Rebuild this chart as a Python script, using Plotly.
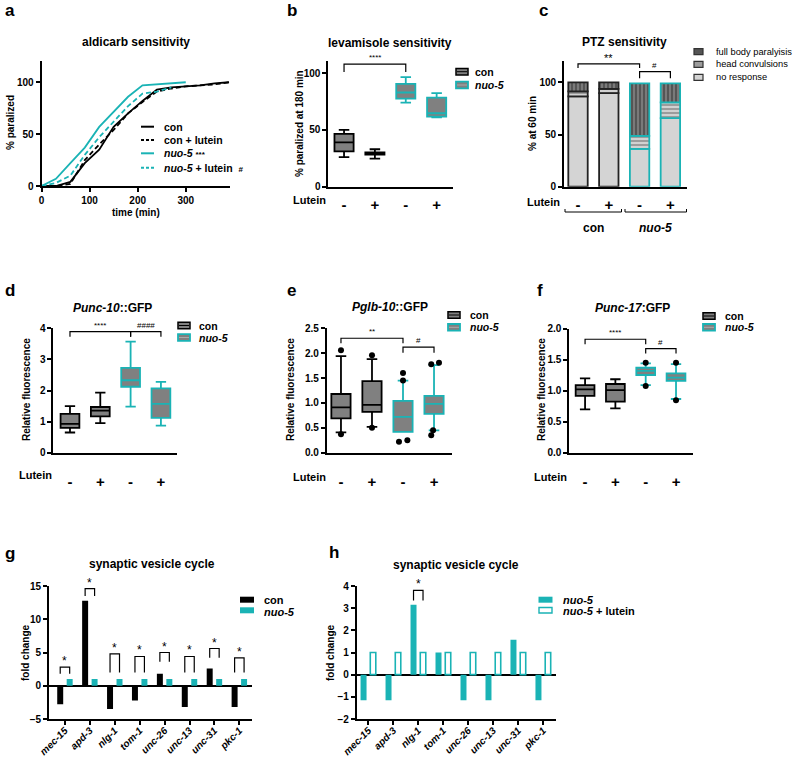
import plotly.graph_objects as go

W, H = 799, 757
TEAL = "#1ab3b5"
GRAY = "#808080"
FONT = "Liberation Sans, Arial, Helvetica, sans-serif"

# ---------------- data ----------------
# (a) aldicarb sensitivity
a_time = [0, 30, 60, 90, 120, 150, 180, 210, 240, 270, 300, 330, 360, 390]
a_con = [0, 0, 4, 22, 35, 57, 70, 82, 93, 95, 96, 97, 99, 100]
a_con_lutein = [0, 0, 2, 25, 40, 54, 70, 81, 91, 94, 96, 97, 98, 100]
a_nuo5_time = [0, 30, 60, 90, 120, 150, 180, 210, 240, 270, 300]
a_nuo5 = [0, 7, 22, 37, 57, 72, 86, 97, 98, 99, 100]
a_nuo5_lutein_time = [0, 30, 60, 90, 120, 150, 180, 210, 240, 270]
a_nuo5_lutein = [0, 3, 10, 30, 47, 62, 77, 89, 91, 95]

lutein_ticks = ["-", "+", "-", "+"]
groups = [0, 1, 2, 3]

# (b) levamisole sensitivity: box stats (con-, con+, nuo5-, nuo5+)
b_q1 = [31.2, 28.2, 77.6, 61.8]
b_med = [39.0, 29.1, 83.0, 64.7]
b_q3 = [46.5, 30.3, 90.6, 78.5]
b_lo = [26.0, 24.7, 74.0, 61.0]
b_hi = [50.0, 33.0, 96.5, 82.4]

# (c) PTZ sensitivity (% at 60 min)
c_no_response = [86.5, 89.7, 36.2, 65.7]
c_head = [4.8, 4.0, 12.5, 15.1]
c_full = [8.7, 6.3, 50.3, 18.2]

# (d) Punc-10::GFP
d_q1 = [0.80, 1.17, 2.12, 1.12]
d_med = [0.93, 1.35, 2.33, 1.57]
d_q3 = [1.25, 1.47, 2.73, 2.07]
d_lo = [0.65, 0.95, 1.48, 0.87]
d_hi = [1.50, 1.93, 3.57, 2.28]

# (e) Pglb-10::GFP
e_q1 = [0.69, 0.82, 0.42, 0.78]
e_med = [0.91, 0.96, 0.72, 0.98]
e_q3 = [1.18, 1.44, 1.04, 1.14]
e_lo = [0.41, 0.52, 0.42, 0.45]
e_hi = [1.94, 1.88, 1.45, 1.76]
e_out_x = [0, 0, 1, 1, 2, 2, 1.87, 2.14, 2.91, 3.16, 2.97, 2.91]
e_out_y = [2.06, 0.37, 1.96, 0.50, 1.60, 1.45, 0.22, 0.25, 1.78, 1.81, 0.45, 0.35]

# (f) Punc-17:GFP
f_q1 = [0.915, 0.823, 1.253, 1.157]
f_med = [1.02, 1.01, 1.32, 1.21]
f_q3 = [1.09, 1.108, 1.37, 1.28]
f_lo = [0.70, 0.716, 1.09, 0.866]
f_hi = [1.20, 1.185, 1.44, 1.43]
f_out_x = [2, 2, 3, 3]
f_out_y = [1.45, 1.076, 1.45, 0.845]

# (g,h) synaptic vesicle cycle
genes = ["mec-15", "apd-3", "nlg-1", "tom-1", "unc-26", "unc-13", "unc-31", "pkc-1"]
g_con = [-2.8, 12.8, -3.5, -2.2, 1.8, -3.2, 2.6, -3.2]
g_nuo5 = [1, 1, 1, 1, 1, 1, 1, 1]
h_nuo5 = [-1.15, -1.15, 3.15, 1.0, -1.15, -1.15, 1.58, -1.15]
h_nuo5_lutein = [1, 1, 1, 1, 1, 1, 1, 1]

# ---------------- helpers ----------------
def px(x):
    return x / W


def py(y):
    return 1 - y / H


annotations = []
shapes = []


def txt(text, x, y, size=10, bold=True, italic=False, xanchor="center",
        yanchor="middle", angle=0):
    f = dict(family=FONT, size=size, color="black", weight="bold" if bold else "normal",
             style="italic" if italic else "normal")
    annotations.append(dict(text=text, x=px(x), y=py(y), xref="paper", yref="paper",
                            showarrow=False, font=f, xanchor=xanchor, yanchor=yanchor,
                            textangle=angle))


def bracket(ax, x0, x1, ytop, yl, yr, label, lsize=8, lift=0):
    shapes.append(dict(type="path", xref="x" + ax, yref="y" + ax,
                       path=f"M {x0},{yl} L {x0},{ytop} L {x1},{ytop} L {x1},{yr}",
                       line=dict(color="black", width=1.2)))
    annotations.append(dict(text=label, x=(x0 + x1) / 2, y=ytop, xref="x" + ax, yref="y" + ax,
                            showarrow=False, yanchor="bottom", yshift=lift,
                            font=dict(family=FONT, size=lsize, color="black")))


def pline(x0, y0, x1, y1, color="black", width=1.0, dash="solid"):
    shapes.append(dict(type="line", xref="paper", yref="paper", x0=px(x0), y0=py(y0),
                       x1=px(x1), y1=py(y1), line=dict(color=color, width=width, dash=dash)))


def prect(x0, y0, x1, y1, fill, line, width=1.5):
    shapes.append(dict(type="rect", xref="paper", yref="paper", x0=px(x0), y0=py(y0),
                       x1=px(x1), y1=py(y1), fillcolor=fill,
                       line=dict(color=line, width=width)))


def box_legend(x, y1, y2, tx):
    prect(x, y1 - 3.3, x + 12, y1 + 3.3, GRAY, "black", 1.5)
    pline(x + 1, y1, x + 11, y1, "black", 1)
    txt("con", tx, y1, size=10.5, xanchor="left")
    prect(x, y2 - 3.3, x + 12, y2 + 3.3, GRAY, TEAL, 1.8)
    pline(x + 1, y2, x + 11, y2, "#aaaaaa", 1)
    txt("nuo-5", tx, y2, size=10.5, italic=True, xanchor="left")


DASH = "5px,3px"

# ---------------- figure ----------------
fig = go.Figure()

# (a)
line_specs = [
    (a_time, a_con, "black", "solid"),
    (a_time, a_con_lutein, "black", DASH),
    (a_nuo5_time, a_nuo5, TEAL, "solid"),
    (a_nuo5_lutein_time, a_nuo5_lutein, TEAL, DASH),
]
for xs, ys, col, dash in line_specs:
    fig.add_trace(go.Scatter(x=xs, y=ys, mode="lines", xaxis="x", yaxis="y",
                             line=dict(color=col, width=1.8, dash=dash), hoverinfo="skip"))


def add_boxes(ax, q1, med, q3, lo, hi):
    for sl, col in ((slice(0, 2), "black"), (slice(2, 4), TEAL)):
        fig.add_trace(go.Box(x=groups[sl], q1=q1[sl], median=med[sl], q3=q3[sl],
                             lowerfence=lo[sl], upperfence=hi[sl],
                             xaxis="x" + ax, yaxis="y" + ax, fillcolor=GRAY,
                             line=dict(color=col, width=1.8), width=0.62,
                             whiskerwidth=0.55, boxpoints=False, hoverinfo="skip"))


add_boxes("2", b_q1, b_med, b_q3, b_lo, b_hi)

# (c) stacked bars
outline = ["#222222", "#222222", TEAL, TEAL]
base_head = c_no_response
base_full = [a + b for a, b in zip(c_no_response, c_head)]
fig.add_trace(go.Bar(x=groups, y=c_no_response, xaxis="x3", yaxis="y3", width=0.63,
                     marker=dict(color="#d4d4d4", line=dict(color=outline, width=1.8)),
                     hoverinfo="skip"))
fig.add_trace(go.Bar(x=groups, y=c_head, base=base_head, xaxis="x3", yaxis="y3", width=0.63,
                     marker=dict(color="#9c9c9c", line=dict(color=outline, width=1.8),
                                 pattern=dict(shape="-", bgcolor="#9c9c9c", fgcolor="#e8e8e8",
                                              size=4, solidity=0.35, fillmode="replace")),
                     hoverinfo="skip"))
fig.add_trace(go.Bar(x=groups, y=c_full, base=base_full, xaxis="x3", yaxis="y3", width=0.63,
                     marker=dict(color="#555555", line=dict(color=outline, width=1.8),
                                 pattern=dict(shape="|", bgcolor="#555555", fgcolor="#8a8a8a",
                                              size=4, solidity=0.35, fillmode="replace")),
                     hoverinfo="skip"))

add_boxes("4", d_q1, d_med, d_q3, d_lo, d_hi)
add_boxes("5", e_q1, e_med, e_q3, e_lo, e_hi)
fig.add_trace(go.Scatter(x=e_out_x, y=e_out_y, mode="markers", xaxis="x5", yaxis="y5",
                         marker=dict(color="black", size=6), hoverinfo="skip"))
add_boxes("6", f_q1, f_med, f_q3, f_lo, f_hi)
fig.add_trace(go.Scatter(x=f_out_x, y=f_out_y, mode="markers", xaxis="x6", yaxis="y6",
                         marker=dict(color="black", size=6), hoverinfo="skip"))

gx = list(range(len(genes)))
fig.add_trace(go.Bar(x=gx, y=g_con, xaxis="x7", yaxis="y7", width=0.24, offset=-0.31,
                     marker=dict(color="black", line=dict(width=0)), hoverinfo="skip"))
fig.add_trace(go.Bar(x=gx, y=g_nuo5, xaxis="x7", yaxis="y7", width=0.24, offset=0.07,
                     marker=dict(color=TEAL, line=dict(width=0)), hoverinfo="skip"))
fig.add_trace(go.Bar(x=gx, y=h_nuo5, xaxis="x8", yaxis="y8", width=0.24, offset=-0.31,
                     marker=dict(color=TEAL, line=dict(width=0)), hoverinfo="skip"))
fig.add_trace(go.Bar(x=gx, y=h_nuo5_lutein, xaxis="x8", yaxis="y8", width=0.22, offset=0.08,
                     marker=dict(color="white", line=dict(color=TEAL, width=1.6)),
                     hoverinfo="skip"))

# ---------------- axes ----------------
tickfont = dict(family=FONT, size=10, color="black", weight="bold")
base_ax = dict(showline=True, linecolor="black", linewidth=1.7, ticks="outside", ticklen=4,
               tickwidth=1.5, tickcolor="black", showgrid=False, zeroline=False,
               tickfont=tickfont, fixedrange=True, automargin=False)

panels = {
    "": dict(x=(41.5, 230), y=(61, 186), xr=[0, 392], yr=[0, 120.5], yt=[0, 50, 100]),
    "2": dict(x=(328.3, 453), y=(60.7, 186.7), xr=[-0.51, 3.53], yr=[0, 111], yt=[0, 50, 100]),
    "3": dict(x=(564, 686.7), y=(61, 186.7), xr=[-0.455, 3.53], yr=[0, 120.5], yt=[0, 50, 100]),
    "4": dict(x=(53.3, 176.7), y=(328.3, 452.7), xr=[-0.55, 3.52], yr=[0, 4.0], yt=[0, 1, 2, 3, 4]),
    "5": dict(x=(326.7, 451.7), y=(328.3, 452.7), xr=[-0.46, 3.57], yr=[0, 2.5],
              yt=[0, 0.5, 1.0, 1.5, 2.0, 2.5]),
    "6": dict(x=(569.3, 693), y=(328.7, 452.7), xr=[-0.52, 3.56], yr=[0, 2.0],
              yt=[0, 0.5, 1.0, 1.5, 2.0]),
    "7": dict(x=(49, 252.3), y=(586, 719), xr=[-0.64, 7.52], yr=[-5, 15], yt=[-5, 0, 5, 10, 15]),
    "8": dict(x=(356.7, 555.7), y=(586, 719), xr=[-0.464, 7.5], yr=[-2, 4],
              yt=[-2, -1, 0, 1, 2, 3, 4]),
}

layout_axes = {}
for k, p in panels.items():
    xa = dict(base_ax, domain=[px(p["x"][0]), px(p["x"][1])], range=p["xr"],
              anchor="y" + k)
    ya = dict(base_ax, domain=[py(p["y"][1]), py(p["y"][0])], range=p["yr"],
              anchor="x" + k, tickvals=p["yt"])
    if k in ("5", "6"):
        ya["tickformat"] = ".1f"
    if k == "":
        xa["tickvals"] = [0, 100, 200, 300]
    elif k in ("2", "3", "4", "5", "6"):
        xa.update(tickvals=groups, ticktext=lutein_ticks, ticks="",
                  tickfont=dict(family=FONT, size=15, color="black", weight="bold"),
                  ticklabelstandoff=3 if k in ("2", "3") else 14)
    else:
        xa.update(tickvals=gx, ticktext=genes, tickangle=-45, ticklabelstandoff=-4,
                  tickfont=dict(family=FONT, size=10, color="black", weight="bold",
                                style="italic"))
        ya.update(zeroline=True, zerolinecolor="black", zerolinewidth=1.8)
    layout_axes["xaxis" + k] = xa
    layout_axes["yaxis" + k] = ya

# ---------------- texts ----------------
for lab, x, y in (("a", 3, 10), ("b", 285, 10), ("c", 537, 10), ("d", 3, 290),
                  ("e", 285, 290), ("f", 535, 290), ("g", 3, 553), ("h", 327, 552)):
    txt(lab, x, y, size=17, xanchor="left")

txt("aldicarb sensitivity", 136, 42, size=12)
txt("levamisole sensitivity", 390, 43, size=12)
txt("PTZ sensitivity", 624, 42, size=12)
txt("<i>Punc-10</i>::GFP", 112, 308, size=12)
txt("<i>Pglb-10</i>::GFP", 390, 307, size=12)
txt("<i>Punc-17</i>:GFP", 632, 308, size=12)
txt("synaptic vesicle cycle", 152, 564, size=12)
txt("synaptic vesicle cycle", 456, 565, size=12)

txt("% paralized", 10, 123, size=10, angle=-90)
txt("time (min)", 136, 212, size=10)
txt("% paralized at 180 min", 300, 124, size=10, angle=-90)
txt("% at 60 min", 533, 124, size=10, angle=-90)
txt("Relative fluorescence", 26, 390, size=10, angle=-90)
txt("Relative fluorescence", 290, 390, size=10, angle=-90)
txt("Relative fluorescence", 541, 390, size=10, angle=-90)
txt("fold change", 25, 653, size=10, angle=-90)
txt("fold change", 330, 653, size=10, angle=-90)

txt("Lutein", 309, 200, size=11)
txt("Lutein", 543, 202, size=11)
txt("Lutein", 35, 475, size=11)
txt("Lutein", 309, 477, size=11)
txt("Lutein", 550, 477, size=11)

# group brackets for (c)
for x0, x1 in ((565, 621.5), (625, 686.5)):
    pline(x0, 212, x1, 212, "black", 1)
    pline(x0, 212, x0, 209, "black", 1)
    pline(x1, 212, x1, 209, "black", 1)
txt("con", 593, 228, size=12)
txt("nuo-5", 655, 228, size=12, italic=True)

# ---------------- significance brackets ----------------
bracket("2", 0, 2, 108, 101, 101, "****", 8)
bracket("3", 0, 2, 117.7, 113.8, 113.8, "**", 11, -2)
bracket("3", 2, 3, 110.3, 104, 104, "#", 8)
bracket("4", 0, 2, 3.89, 3.73, 3.73, "****", 8)
bracket("4", 2, 3, 3.89, 3.73, 3.73, "####", 8)
bracket("5", 0, 2, 2.30, 2.20, 2.20, "**", 8)
bracket("5", 2, 3, 2.12, 2.01, 2.01, "#", 8)
bracket("6", 0, 2, 1.83, 1.75, 1.75, "****", 8)
bracket("6", 2, 3, 1.68, 1.60, 1.60, "#", 8)

g_top = [2.8, 14.6, 4.8, 4.4, 5.0, 4.4, 5.6, 4.2]
g_leg = [1.8, 13.5, 2.0, 2.0, 3.6, 2.0, 4.2, 2.0]
for i in gx:
    bracket("7", i - 0.19, i + 0.19, g_top[i], g_leg[i], g_leg[i], "*", 12, -3)
bracket("8", 2 - 0.19, 2 + 0.19, 3.8, 3.35, 3.35, "*", 12, -3)

# ---------------- legends ----------------
leg_a = [("con", "black", "solid", 126.7), ("con + lutein", "black", DASH, 140),
         ("<i>nuo-5</i> <span style='font-size:8px'>***</span>", TEAL, "solid", 153.3),
         ("<i>nuo-5</i> + lutein  <span style='font-size:8px'>#</span>", TEAL, DASH, 167.7)]
for t, col, dash, y in leg_a:
    pline(141, y, 154, y, col, 2, "3px,2px" if dash != "solid" else "solid")
    txt(t, 162, y, size=10.5, xanchor="left")

box_legend(456, 71.7, 85, 473.5)
box_legend(178, 325.5, 337.5, 196.5)
box_legend(448, 315, 327.3, 468.3)
box_legend(703, 316, 327.3, 723)

for t, col, y in (("full body paralyisis", "#555555", 51.7), ("head convulsions", "#9c9c9c", 64.3),
                  ("no response", "#d4d4d4", 77.3)):
    prect(694, y - 3, 703, y + 3, col, "#333333", 1.2)
    txt(t, 714, y, size=9.3, bold=False, xanchor="left")

prect(240, 596.7, 254, 602.7, "black", "black", 0)
txt("con", 262, 599.5, size=11, xanchor="left")
prect(240, 607.3, 254, 613.3, TEAL, TEAL, 0)
txt("nuo-5", 262, 611.5, size=11, italic=True, xanchor="left")
prect(538.5, 596.7, 552.5, 602.7, TEAL, TEAL, 0)
txt("nuo-5", 561, 599.5, size=11, italic=True, xanchor="left")
prect(539, 607.5, 552, 613, "white", TEAL, 1.4)
txt("<i>nuo-5</i> + lutein", 561, 610.5, size=11, xanchor="left")

fig.update_layout(
    width=W, height=H, margin=dict(l=0, r=0, t=0, b=0, autoexpand=False),
    paper_bgcolor="white", plot_bgcolor="white", showlegend=False,
    barmode="overlay", font=dict(family=FONT, color="black"),
    annotations=annotations, shapes=shapes, **layout_axes,
)

fig.write_html(
    "out.html",
    config={"displayModeBar": False},
    post_script="document.body.style.margin='0';document.body.style.padding='0';"
                "document.body.style.overflow='hidden';",
)
